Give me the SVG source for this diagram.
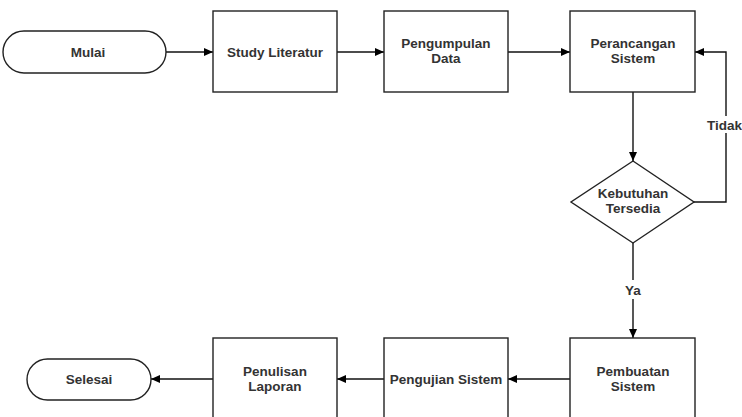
<svg xmlns="http://www.w3.org/2000/svg" width="742" height="417" viewBox="0 0 742 417">
<defs>
<marker id="ah" markerWidth="10" markerHeight="8" refX="9" refY="4" orient="auto" markerUnits="userSpaceOnUse">
<path d="M0,0 L9,4 L0,8 Z" fill="#000"/>
</marker>
<style>
.s{fill:#fff;stroke:#222;stroke-width:1.4}
.t{font-family:"Liberation Sans",Arial,sans-serif;font-weight:bold;font-size:13.5px;fill:#333;text-anchor:middle}
.c{fill:none;stroke:#111;stroke-width:1.4;marker-end:url(#ah)}
.l{fill:none;stroke:#111;stroke-width:1.4}
</style>
</defs>
<rect width="742" height="417" fill="#fff"/>
<g id="connectors">
<path class="c" d="M166,52 H213"/>
<path class="c" d="M337,52 H384"/>
<path class="c" d="M508,52 H570"/>
<path class="c" d="M633,92 V161"/>
<path class="c" d="M694,202 H726 V52 H695"/>
<path class="l" d="M633,243 V280"/>
<path class="c" d="M633,299 V338"/>
<path class="c" d="M570,379 H508"/>
<path class="c" d="M384,379 H337"/>
<path class="c" d="M213,379 H151"/>
<rect x="704" y="116" width="38" height="17" fill="#fff"/>
<text class="t" x="707" y="130" style="text-anchor:start">Tidak</text>
<text class="t" x="633" y="295">Ya</text>
</g>
<g id="mulai">
<rect class="s" x="3" y="31" width="163" height="42" rx="21"/>
<text class="t" x="88" y="57">Mulai</text>
</g>
<g id="study">
<rect class="s" x="213" y="11" width="124" height="81"/>
<text class="t" x="275" y="57">Study Literatur</text>
</g>
<g id="pengumpulan">
<rect class="s" x="384" y="11" width="124" height="81"/>
<text class="t" x="446" y="48">Pengumpulan</text>
<text class="t" x="446" y="63">Data</text>
</g>
<g id="perancangan">
<rect class="s" x="570" y="11" width="125" height="81"/>
<text class="t" x="633" y="48">Perancangan</text>
<text class="t" x="633" y="63">Sistem</text>
</g>
<g id="kebutuhan">
<path class="s" d="M633,161 L694,202 L633,243 L571,202 Z"/>
<text class="t" x="633" y="198">Kebutuhan</text>
<text class="t" x="633" y="213">Tersedia</text>
</g>
<g id="pembuatan">
<rect class="s" x="570" y="338" width="125" height="81"/>
<text class="t" x="633" y="376">Pembuatan</text>
<text class="t" x="633" y="391">Sistem</text>
</g>
<g id="pengujian">
<rect class="s" x="384" y="338" width="124" height="81"/>
<text class="t" x="446" y="384">Pengujian Sistem</text>
</g>
<g id="penulisan">
<rect class="s" x="213" y="338" width="124" height="81"/>
<text class="t" x="275" y="376">Penulisan</text>
<text class="t" x="275" y="391">Laporan</text>
</g>
<g id="selesai">
<rect class="s" x="27" y="359" width="124" height="41" rx="20.5"/>
<text class="t" x="89" y="384">Selesai</text>
</g>
</svg>
